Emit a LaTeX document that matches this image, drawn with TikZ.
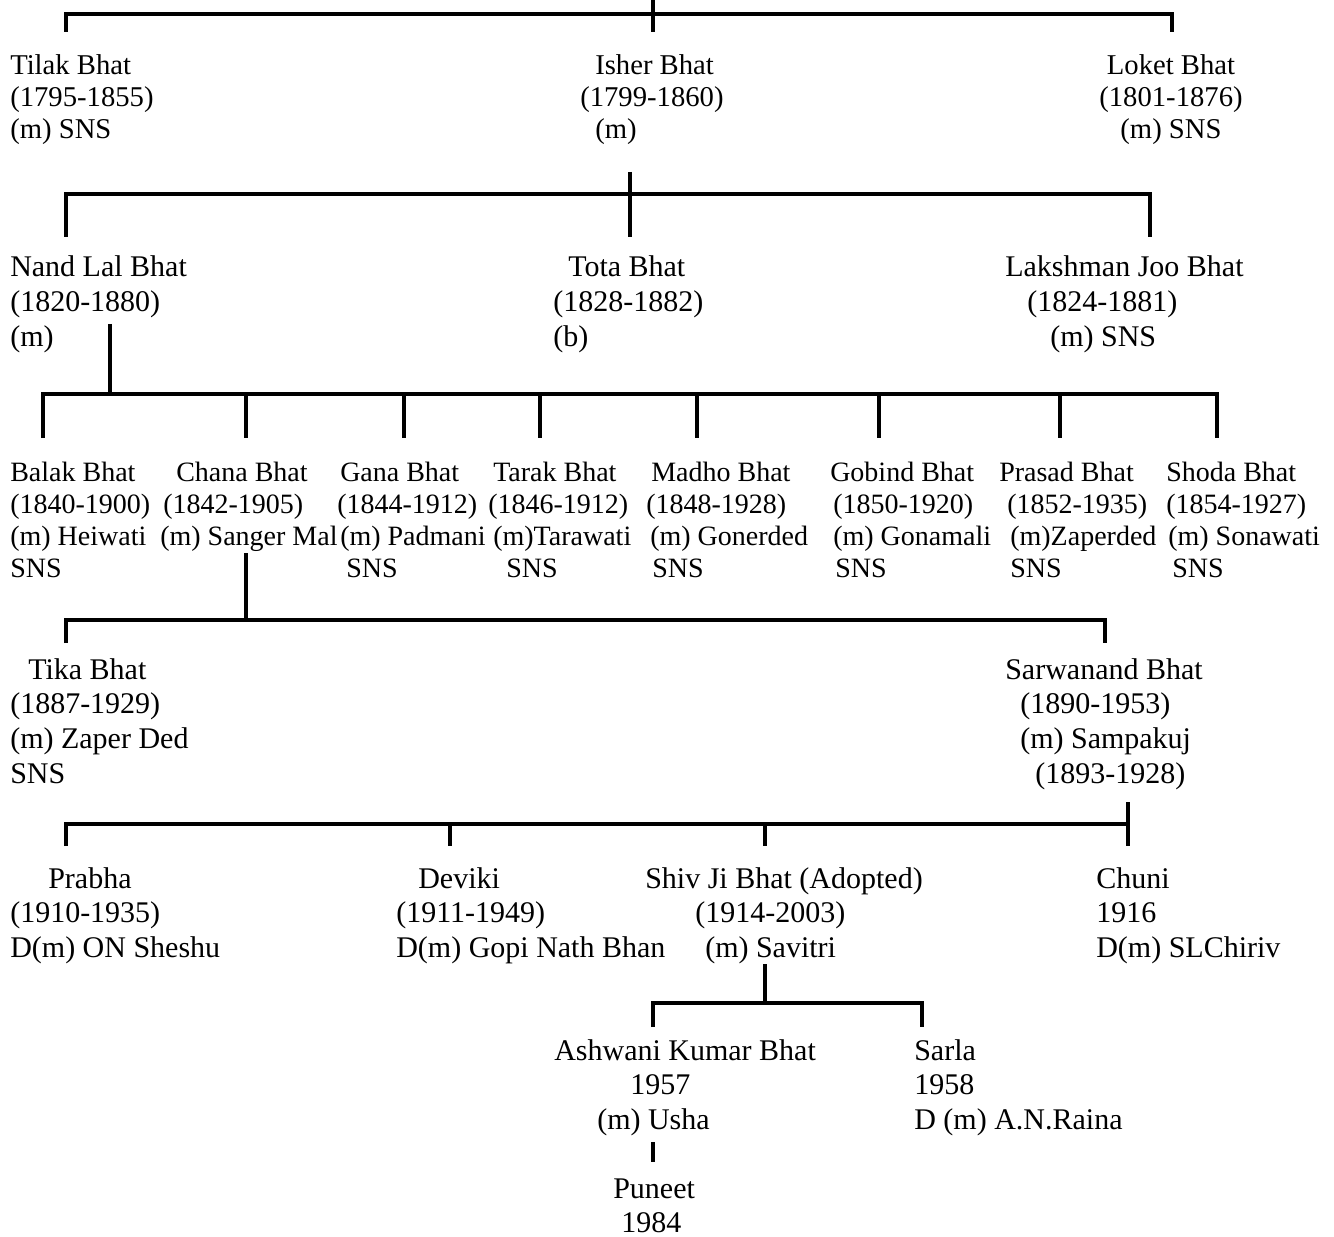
\documentclass[tikz,border=0pt]{standalone}
\usepackage{fontspec}
\setmainfont{Liberation Serif}
\newdimen\pxu \pxu=0.75pt
\newcommand\indpx[1]{\hspace*{#1\pxu}}
\newcommand\pstack[1]{\begin{tabular}[t]{@{}l@{}}#1\end{tabular}}
\newcommand\cstack[1]{\begin{tabular}[t]{@{}c@{}}#1\end{tabular}}
\newcommand\topfont{\fontsize{21.5}{23.7}\selectfont}
\newcommand\smfont{\fontsize{21}{24}\selectfont}
\newcommand\lgfont{\fontsize{22.5}{26}\selectfont}
\begin{document}
\begin{tikzpicture}[x=0.75pt,y=-0.75pt,
  tp/.style={inner sep=0pt, anchor=base west, font=\topfont},
  sm/.style={inner sep=0pt, anchor=base west, font=\smfont},
  lg/.style={inner sep=0pt, anchor=base west, font=\lgfont},
  tl/.style={line width=2.8pt, line join=miter}]
\useasboundingbox (0,0) rectangle (1334,1237);

% ---------- generation 1 ----------
\node[tp] (tilak) at (10,75) {\pstack{Tilak Bhat\\(1795-1855)\\(m) SNS}};
\node[tp] (isher) at (580,75) {\pstack{\indpx{15}Isher Bhat\\(1799-1860)\\\indpx{15}(m)}};
\node[tp,anchor=base] (loket) at (1171,75) {\cstack{Loket Bhat\\(1801-1876)\\(m) SNS}};

% ---------- generation 2 ----------
\node[lg] (nand) at (10,277) {\pstack{Nand Lal Bhat\\(1820-1880)\\(m)}};
\node[lg] (tota) at (553,277) {\pstack{\indpx{15}Tota Bhat\\(1828-1882)\\(b)}};
\node[lg] (laksh) at (1005,277) {\pstack{Lakshman Joo Bhat\\\indpx{22}(1824-1881)\\\indpx{45}(m) SNS}};

% ---------- generation 3 ----------
\node[sm] (balak) at (10,481) {\pstack{Balak Bhat\\(1840-1900)\\(m) Heiwati\\SNS}};
\node[sm] (chana) at (160,481) {\pstack{\indpx{16}Chana Bhat\\\indpx{3}(1842-1905)\\(m) Sanger Mal}};
\node[sm] (gana) at (337,481) {\pstack{\indpx{3}Gana Bhat\\(1844-1912)\\\indpx{3}(m) Padmani\\\indpx{9}SNS}};
\node[sm] (tarak) at (488,481) {\pstack{\indpx{5}Tarak Bhat\\(1846-1912)\\\indpx{5}(m)Tarawati\\\indpx{18}SNS}};
\node[sm] (madho) at (646,481) {\pstack{\indpx{5}Madho Bhat\\(1848-1928)\\\indpx{4}(m) Gonerded\\\indpx{6}SNS}};
\node[sm] (gobind) at (830,481) {\pstack{Gobind Bhat\\\indpx{3}(1850-1920)\\\indpx{3}(m) Gonamali\\\indpx{5}SNS}};
\node[sm] (prasad) at (999,481) {\pstack{Prasad Bhat\\\indpx{8}(1852-1935)\\\indpx{11}(m)Zaperded\\\indpx{11}SNS}};
\node[sm] (shoda) at (1166,481) {\pstack{Shoda Bhat\\(1854-1927)\\\indpx{2}(m) Sonawati\\\indpx{6}SNS}};

% ---------- generation 4 ----------
\node[lg] (tika) at (10,679) {\pstack{\indpx{18}Tika Bhat\\(1887-1929)\\(m) Zaper Ded\\SNS}};
\node[lg] (sarwa) at (1005,679) {\pstack{Sarwanand Bhat\\\indpx{15}(1890-1953)\\\indpx{15}(m) Sampakuj\\\indpx{30}(1893-1928)}};

% ---------- generation 5 ----------
\node[lg] (prabha) at (10,888) {\pstack{\indpx{38}Prabha\\(1910-1935)\\D(m) ON Sheshu}};
\node[lg] (deviki) at (396,888) {\pstack{\indpx{22}Deviki\\(1911-1949)\\D(m) Gopi Nath Bhan}};
\node[lg] (shiv) at (645,888) {\pstack{Shiv Ji Bhat (Adopted)\\\indpx{50}(1914-2003)\\\indpx{60}(m) Savitri}};
\node[lg] (chuni) at (1096,888) {\pstack{Chuni\\1916\\D(m) SLChiriv}};

% ---------- generation 6 ----------
\node[lg] (ashwani) at (554,1060) {\pstack{Ashwani Kumar Bhat\\\indpx{76}1957\\\indpx{43}(m) Usha}};
\node[lg] (sarla) at (914,1060) {\pstack{Sarla\\1958\\D (m) A.N.Raina}};

% ---------- generation 7 ----------
\node[lg] (puneet) at (613,1198) {Puneet};
\node[lg] (puneet-year) at (621,1232) {1984};

% ---------- connector points ----------
\coordinate (g0top) at (653,0);
\coordinate (isher-in) at (653,32);
\coordinate (tilak-in) at (66,32);
\coordinate (loket-in) at (1172,32);
\coordinate (bar1L) at (66,14);
\coordinate (bar1R) at (1172,14);

\coordinate (isher-out) at (630,172);
\coordinate (bar2L) at (66,194);
\coordinate (bar2R) at (1150,194);
\coordinate (nand-in) at (66,237);
\coordinate (tota-in) at (630,237);
\coordinate (laksh-in) at (1150,237);

\coordinate (nand-out) at (110,324);
\coordinate (nand-bar) at (110,394);
\coordinate (bar3L) at (43,394);
\coordinate (bar3R) at (1217,394);
\coordinate (balak-in) at (43,438);
\coordinate (chana-in) at (246,438);
\coordinate (gana-in) at (404,438);
\coordinate (tarak-in) at (540,438);
\coordinate (madho-in) at (697,438);
\coordinate (gobind-in) at (879,438);
\coordinate (prasad-in) at (1060,438);
\coordinate (shoda-in) at (1217,438);

\coordinate (chana-out) at (246,553);
\coordinate (chana-bar) at (246,620);
\coordinate (bar4L) at (66,620);
\coordinate (bar4R) at (1105,620);
\coordinate (tika-in) at (66,643);
\coordinate (sarwa-in) at (1105,643);

\coordinate (sarwa-out) at (1128,802);
\coordinate (bar5L) at (66,824);
\coordinate (bar5R) at (1128,824);
\coordinate (prabha-in) at (66,846);
\coordinate (deviki-in) at (450,846);
\coordinate (shiv-in) at (765,846);
\coordinate (chuni-in) at (1128,846);

\coordinate (shiv-out) at (765,964);
\coordinate (shiv-bar) at (765,1003);
\coordinate (bar6L) at (653,1003);
\coordinate (bar6R) at (922,1003);
\coordinate (ashwani-in) at (653,1027);
\coordinate (sarla-in) at (922,1027);

\coordinate (ashwani-out) at (653,1142);
\coordinate (puneet-in) at (653,1162);

% ---------- connectors ----------
\draw[tl] (g0top) -- (isher-in);
\draw[tl] (tilak-in) -- (bar1L) -- (bar1R) -- (loket-in);

\draw[tl] (isher-out) -- (tota-in);
\draw[tl] (nand-in) -- (bar2L) -- (bar2R) -- (laksh-in);

\draw[tl] (nand-out) -- (nand-bar);
\draw[tl] (balak-in) -- (bar3L) -- (bar3R) -- (shoda-in);
\foreach \c in {chana,gana,tarak,madho,gobind,prasad}
  \draw[tl] (\c-in |- bar3L) -- (\c-in);

\draw[tl] (chana-out) -- (chana-bar);
\draw[tl] (tika-in) -- (bar4L) -- (bar4R) -- (sarwa-in);

\draw[tl] (sarwa-out) -- (chuni-in);
\draw[tl] (prabha-in) -- (bar5L) -- (bar5R);
\foreach \c in {deviki,shiv}
  \draw[tl] (\c-in |- bar5L) -- (\c-in);

\draw[tl] (shiv-out) -- (shiv-bar);
\draw[tl] (ashwani-in) -- (bar6L) -- (bar6R) -- (sarla-in);

\draw[tl] (ashwani-out) -- (puneet-in);
\end{tikzpicture}
\end{document}
